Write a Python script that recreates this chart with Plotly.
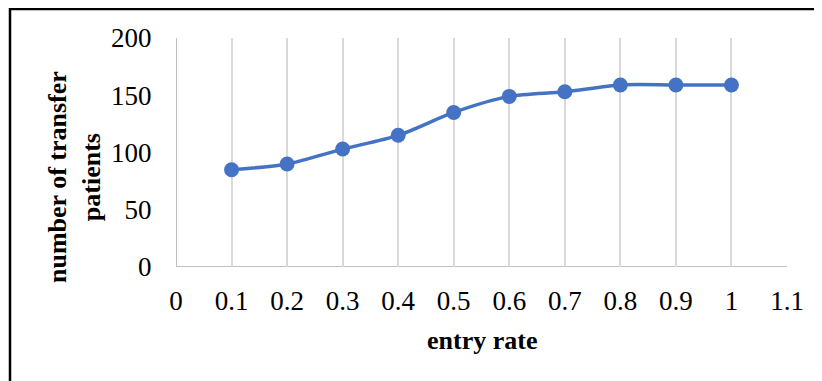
import plotly.graph_objects as go

entry_rate = [0.1, 0.2, 0.3, 0.4, 0.5, 0.6, 0.7, 0.8, 0.9, 1.0]
transfer_patients = [85, 90, 103, 115, 135, 149, 153, 159, 159, 159]
x_ticks = [0, 0.1, 0.2, 0.3, 0.4, 0.5, 0.6, 0.7, 0.8, 0.9, 1.0, 1.1]
x_tick_labels = ["0", "0.1", "0.2", "0.3", "0.4", "0.5", "0.6", "0.7", "0.8", "0.9", "1", "1.1"]
y_ticks = [0, 50, 100, 150, 200]

FONT = "Liberation Serif, Times New Roman, serif"
OFF = 8  # default page body margin
W, H = 822 - OFF, 381 - OFF
L, R, T, B = 176 - OFF, 35, 38 - OFF, 114
pw, ph = W - L - R, H - T - B

fig = go.Figure()
fig.add_trace(go.Scatter(
    x=entry_rate, y=transfer_patients, mode="lines+markers",
    line=dict(color="#4472C4", width=3.5, shape="spline", smoothing=0.8),
    marker=dict(color="#4472C4", size=15),
    showlegend=False, cliponaxis=False,
))

fig.update_layout(
    width=W, height=H,
    margin=dict(l=L, r=R, t=T, b=B),
    paper_bgcolor="white", plot_bgcolor="white",
    font=dict(family=FONT, size=26, color="black"),
    xaxis=dict(
        range=[0, 1.1], tickvals=x_ticks, ticktext=x_tick_labels,
        showgrid=True, gridcolor="#D9D9D9", gridwidth=1.5,
        zeroline=False, showline=False,
        ticks="outside", ticklen=10, tickcolor="rgba(0,0,0,0)",
        tickfont=dict(family=FONT, size=27),
    ),
    yaxis=dict(
        range=[0, 200], tickvals=y_ticks,
        showgrid=False, zeroline=False, showline=False,
        ticks="outside", ticklen=18, tickcolor="rgba(0,0,0,0)",
        tickfont=dict(family=FONT, size=27),
    ),
    shapes=[
        dict(type="line", xref="x", yref="paper", x0=0, x1=0, y0=0, y1=1,
             line=dict(color="#BFBFBF", width=2), layer="below"),
        dict(type="line", xref="paper", yref="y", x0=0, x1=1, y0=0, y1=0,
             line=dict(color="#BFBFBF", width=2), layer="below"),
        dict(type="rect", xref="paper", yref="paper",
             x0=(10 - 176) / pw, x1=1.2, y0=-0.8, y1=(267 - 9) / ph,
             line=dict(color="black", width=2.5), layer="above"),
    ],
    annotations=[
        dict(text="<b>entry rate</b>", xref="paper", yref="paper",
             x=0.5, y=(267 - 340) / ph, xanchor="center", yanchor="middle",
             showarrow=False, font=dict(family=FONT, size=26)),
        dict(text="<b>number of transfer<br>patients</b>", xref="paper", yref="paper",
             x=(74 - 176) / pw, y=(267 - 177) / ph, xanchor="center", yanchor="middle",
             textangle=-90, showarrow=False, font=dict(family=FONT, size=26)),
    ],
)

fig.write_html("out.html")
